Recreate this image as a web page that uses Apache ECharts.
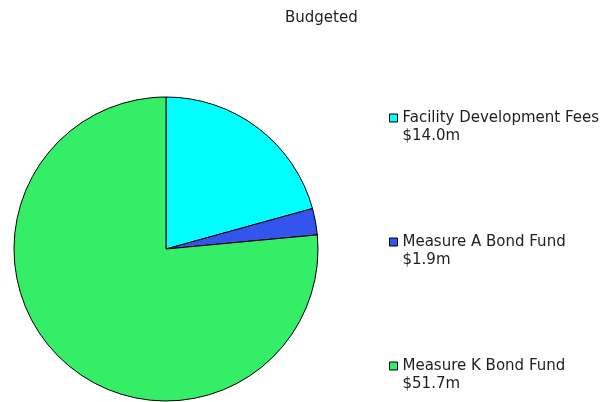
<!DOCTYPE html>
<html>
<head>
<meta charset="utf-8">
<script src="https://cdn.jsdelivr.net/npm/echarts@6/dist/echarts.min.js"></script>
<style>
html,body{margin:0;padding:0;background:#fff;}
#chart{width:615px;height:402px;}
</style>
</head>
<body>
<div id="chart"></div>
<script>
const categories = ['Facility Development Fees', 'Measure A Bond Fund', 'Measure K Bond Fund'];
const values = [14.0, 1.9, 51.7];
const valueLabels = ['$14.0m', '$1.9m', '$51.7m'];
const colors = ['#00ffff', '#3355ee', '#33ee66'];

const chart = echarts.init(document.getElementById('chart'), null, {renderer: 'canvas'});
const data = categories.map((c, i) => ({name: c, value: values[i], itemStyle: {color: colors[i]}}));
const labelOf = {};
categories.forEach((c, i) => { labelOf[c] = valueLabels[i]; });

chart.setOption({
  backgroundColor: '#ffffff',
  animation: false,
  title: {
    text: 'Budgeted',
    left: 280,
    top: 6,
    textStyle: {fontFamily: 'DejaVu Sans', fontSize: 15, fontWeight: 'normal', color: '#1e1e1e'}
  },
  legend: {
    orient: 'vertical',
    left: 384,
    top: 86,
    itemGap: 70,
    itemWidth: 8,
    itemHeight: 8,
    icon: 'rect',
    selectedMode: false,
    itemStyle: {borderColor: '#000', borderWidth: 1},
    formatter: name => ' \n' + name + '\n' + labelOf[name],
    textStyle: {
      fontFamily: 'DejaVu Sans', fontSize: 15, color: '#1e1e1e',
      lineHeight: 18
    },
    data: categories
  },
  series: [{
    type: 'pie',
    center: [166, 249],
    radius: 152,
    startAngle: 90,
    clockwise: true,
    label: {show: false},
    labelLine: {show: false},
    emphasis: {disabled: true},
    itemStyle: {borderColor: '#000', borderWidth: 1},
    data: data
  }]
});
</script>
</body>
</html>
